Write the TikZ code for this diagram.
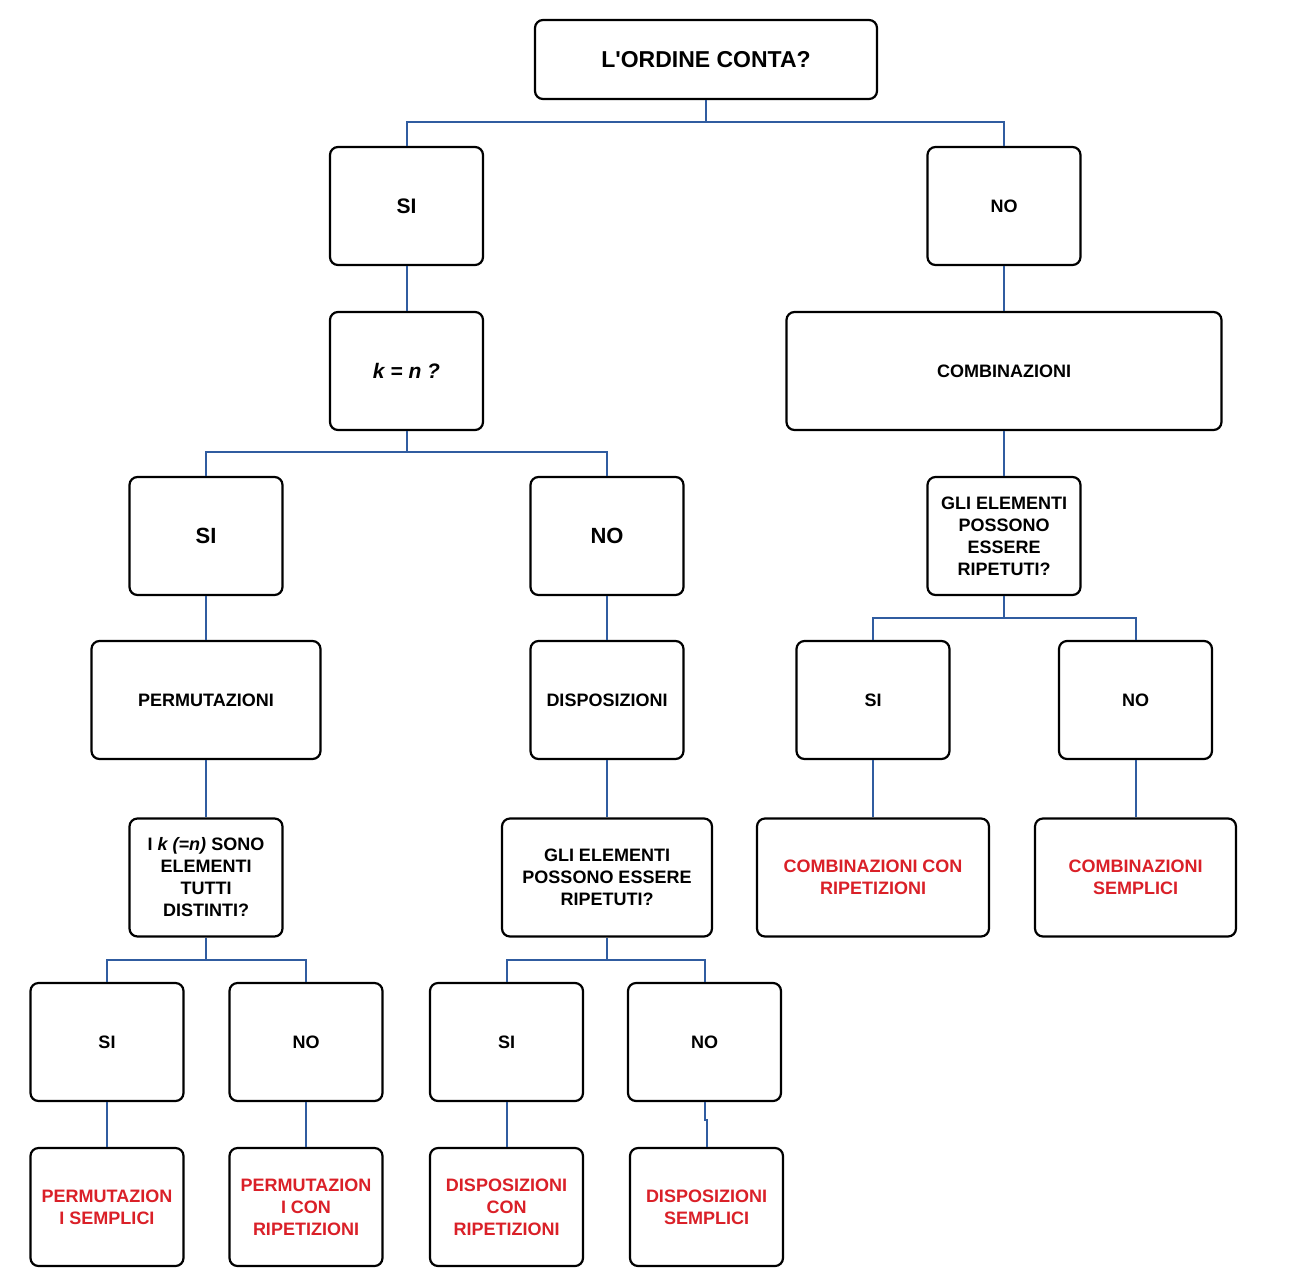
\documentclass[tikz,border=0pt]{standalone}
\usepackage{fontspec}
\setmainfont{Liberation Sans}
% family without TeX input ligatures, so that ' stays a straight quote
\newfontfamily\straightfont{Liberation Sans}
\begin{document}
\begin{tikzpicture}[x=1pt,y=-1pt,
  box/.style={draw=black, line width=2.2pt, rounded corners=8pt, fill=white,
    align=center, inner sep=2pt, font=\bfseries\fontsize{18}{22}\selectfont,
    minimum width=153pt, minimum height=118pt},
  big/.style={font=\bfseries\fontsize{22}{26}\selectfont},
  res/.style={box, text=resred},
  conn/.style={draw=lineblue, line width=2pt}]
\definecolor{lineblue}{RGB}{48,92,160}
\definecolor{resred}{RGB}{218,32,40}
\useasboundingbox (0,0) rectangle (1300,1278);

% level 0
\node[box, minimum width=342pt, minimum height=79pt, font=\straightfont\bfseries\fontsize{23}{27}\selectfont] (top) at (706,59.5) {L'ORDINE CONTA?};

% level 1
\node[box, font=\bfseries\fontsize{21}{25}\selectfont] (si1) at (406.5,206) {SI};
\node[box] (no1) at (1004,206) {NO};

% level 2
\node[box, font=\bfseries\itshape\fontsize{21}{25}\selectfont] (keqn) at (406.5,371) {k = n ?};
\node[box, minimum width=435pt] (comb) at (1004,371) {COMBINAZIONI};

% level 3
\node[box, big] (si2) at (206,536) {SI};
\node[box, big] (no2) at (607,536) {NO};
\node[box] (rip1) at (1004,536) {GLI ELEMENTI\\POSSONO\\ESSERE\\RIPETUTI?};

% level 4
\node[box, minimum width=229pt] (perm) at (206,700) {PERMUTAZIONI};
\node[box] (disp) at (607,700) {DISPOSIZIONI};
\node[box] (si3) at (873,700) {SI};
\node[box] (no3) at (1135.5,700) {NO};

% level 5
\node[box] (dist) at (206,877.5) {I \textit{k (=n)} SONO\\ELEMENTI\\TUTTI\\DISTINTI?};
\node[box, minimum width=210pt] (rip2) at (607,877.5) {GLI ELEMENTI\\POSSONO ESSERE\\RIPETUTI?};
\node[res, minimum width=232pt] (combrip) at (873,877.5) {COMBINAZIONI CON\\RIPETIZIONI};
\node[res, minimum width=201pt] (combsem) at (1135.5,877.5) {COMBINAZIONI\\SEMPLICI};

% level 6
\node[box] (si4) at (107,1042) {SI};
\node[box] (no4) at (306,1042) {NO};
\node[box] (si5) at (506.5,1042) {SI};
\node[box] (no5) at (704.5,1042) {NO};

% level 7
\node[res] (permsem) at (107,1207) {PERMUTAZION\\I SEMPLICI};
\node[res] (permrip) at (306,1207) {PERMUTAZION\\I CON\\RIPETIZIONI};
\node[res] (disprip) at (506.5,1207) {DISPOSIZIONI\\CON\\RIPETIZIONI};
\node[res] (dispsem) at (706.5,1207) {DISPOSIZIONI\\SEMPLICI};

% bus junctions
\coordinate (b0) at (706,122);
\coordinate (b1) at (406.5,452);
\coordinate (b2) at (1004,618);
\coordinate (b3) at (206,960);
\coordinate (b4) at (607,960);

% connectors
\draw[conn] (top.south) -- (b0) -| (si1.north);
\draw[conn] (b0) -| (no1.north);
\draw[conn] (si1.south) -- (keqn.north);
\draw[conn] (no1.south) -- (comb.north);
\draw[conn] (keqn.south) -- (b1) -| (si2.north);
\draw[conn] (b1) -| (no2.north);
\draw[conn] (comb.south) -- (rip1.north);
\draw[conn] (rip1.south) -- (b2) -| (si3.north);
\draw[conn] (b2) -| (no3.north);
\draw[conn] (si2.south) -- (perm.north);
\draw[conn] (no2.south) -- (disp.north);
\draw[conn] (perm.south) -- (dist.north);
\draw[conn] (disp.south) -- (rip2.north);
\draw[conn] (si3.south) -- (combrip.north);
\draw[conn] (no3.south) -- (combsem.north);
\draw[conn] (dist.south) -- (b3) -| (si4.north);
\draw[conn] (b3) -| (no4.north);
\draw[conn] (rip2.south) -- (b4) -| (si5.north);
\draw[conn] (b4) -| (no5.north);
\draw[conn] (si4.south) -- (permsem.north);
\draw[conn] (no4.south) -- (permrip.north);
\draw[conn] (si5.south) -- (disprip.north);
\draw[conn] (no5.south) -- ++(0,18) -| (dispsem.north);
\end{tikzpicture}
\end{document}
